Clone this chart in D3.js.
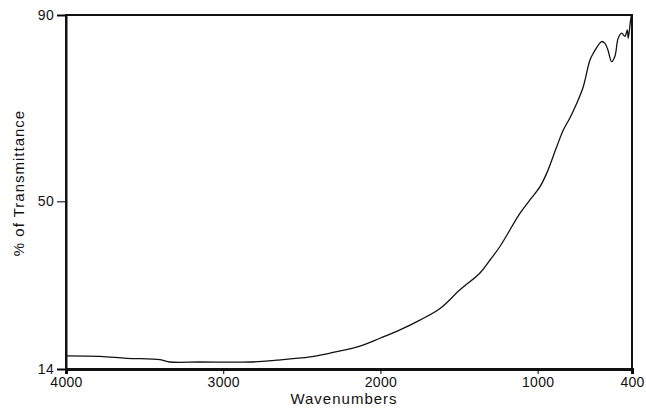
<!DOCTYPE html>
<html>
<head>
<meta charset="utf-8">
<script src="https://cdn.jsdelivr.net/npm/d3@7"></script>
<style>
  body { margin: 0; background: #fff; }
  text { font-family: "Liberation Sans", Arial, sans-serif; fill: #111; }
</style>
</head>
<body>
<svg width="646" height="409"></svg>
<script>
// spectrum (wavenumber, % transmittance)
var wavenumbers = [4000, 3784, 3614, 3402, 3339, 3148, 2830, 2660, 2448, 2321, 2130, 2003, 1876, 1749, 1621, 1494, 1367, 1303, 1240, 1113, 1049, 986, 943, 879, 837, 795, 752, 710, 668, 646, 593, 572, 553, 530, 509, 488, 466, 445, 430, 424, 409, 403];
var transmittance = [16.8, 16.7, 16.3, 16.0, 15.5, 15.5, 15.5, 15.9, 16.6, 17.4, 18.9, 20.6, 22.4, 24.5, 27.0, 31.0, 34.6, 37.4, 40.3, 47.4, 50.3, 53.1, 56.0, 61.7, 65.3, 67.9, 71.0, 74.6, 80.3, 81.8, 84.3, 83.9, 82.5, 80.0, 81.1, 85.0, 86.1, 85.4, 86.8, 85.0, 88.9, 90.0];

var xTicks = [4000, 3000, 2000, 1000, 400];
var yTicks = [14, 50, 90];

var svg = d3.select("svg"),
    margin = {top: 15, right: 14, bottom: 40, left: 66},
    width = 646 - margin.left - margin.right,
    height = 409 - margin.top - margin.bottom,
    g = svg.append("g").attr("transform", "translate(" + margin.left + "," + margin.top + ")");

var x = d3.scaleLinear().domain([4000, 400]).range([0, width]);
var y = d3.scaleLinear().domain([14, 90]).range([height, 0]);

// frame
g.append("rect")
    .attr("width", width)
    .attr("height", height)
    .attr("fill", "none")
    .attr("stroke", "#111")
    .attr("stroke-width", 2);

var xAxis = g.append("g")
    .attr("transform", "translate(0," + height + ")")
    .call(d3.axisBottom(x).tickValues(xTicks).tickSize(5).tickPadding(3).tickFormat(d3.format("d")));
xAxis.select(".domain").attr("stroke-width", 3).attr("stroke", "#111");
xAxis.selectAll("text").attr("font-size", 14).attr("letter-spacing", 0.3);

var yAxis = g.append("g")
    .call(d3.axisLeft(y).tickValues(yTicks).tickSize(9).tickPadding(3));
yAxis.select(".domain").attr("stroke-width", 2).attr("stroke", "#111");
yAxis.selectAll("text").attr("font-size", 14).attr("letter-spacing", 0.3);

// spectrum line
var line = d3.line()
    .x(function(d, i) { return x(wavenumbers[i]); })
    .y(function(d) { return y(d); })
    .curve(d3.curveCatmullRom.alpha(0.5));

g.append("path")
    .datum(transmittance)
    .attr("fill", "none")
    .attr("stroke", "#111")
    .attr("stroke-width", 1.3)
    .attr("d", line);

// axis titles
svg.append("text")
    .attr("x", 344)
    .attr("y", 404)
    .attr("text-anchor", "middle")
    .attr("font-size", 15)
    .attr("letter-spacing", 1)
    .text("Wavenumbers");

svg.append("text")
    .attr("transform", "translate(24,183) rotate(-90)")
    .attr("text-anchor", "middle")
    .attr("font-size", 15)
    .attr("letter-spacing", 1)
    .text("% of Transmittance");
</script>
</body>
</html>
